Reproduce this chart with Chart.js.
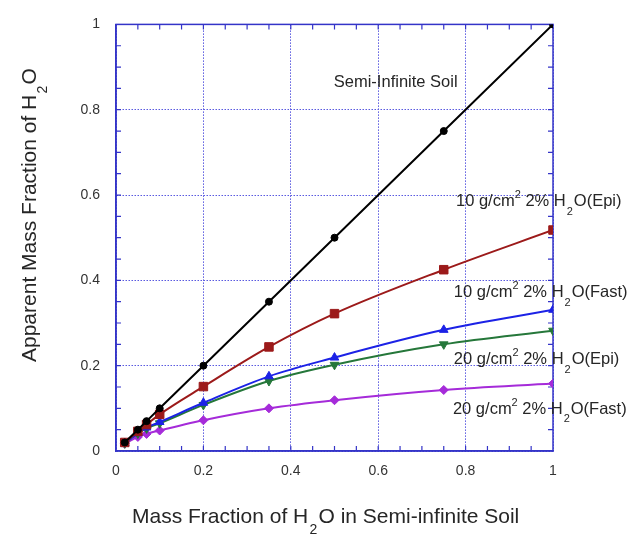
<!DOCTYPE html>
<html>
<head>
<meta charset="utf-8">
<script src="https://cdn.jsdelivr.net/npm/chart.js@4/dist/chart.umd.min.js"></script>
<style>
html,body{margin:0;padding:0;background:#fff;}
#wrap{width:636px;height:537px;position:relative;}
</style>
</head>
<body>
<div id="wrap"><canvas id="c" width="636" height="537"></canvas></div>
<script>
// ---- data ----
const xValues      = [0.02, 0.05, 0.07, 0.1, 0.2, 0.35, 0.5, 0.75, 1.0];
const semiInfinite = [0.02, 0.05, 0.07, 0.1, 0.2, 0.35, 0.5, 0.75, 1.0];
const epi10        = [0.02, 0.046, 0.062, 0.086, 0.151, 0.244, 0.322, 0.425, 0.518];
const fast10       = [0.018, 0.042, 0.055, 0.068, 0.113, 0.175, 0.219, 0.284, 0.331];
const epi20        = [0.018, 0.041, 0.053, 0.065, 0.108, 0.164, 0.202, 0.250, 0.282];
const fast20       = [0.017, 0.033, 0.040, 0.048, 0.072, 0.100, 0.119, 0.143, 0.158];
const tickValues   = [0, 0.2, 0.4, 0.6, 0.8, 1];

const seriesNames  = ['Semi-Infinite Soil', '10 g/cm2 2% H2O(Epi)', '10 g/cm2 2% H2O(Fast)', '20 g/cm2 2% H2O(Epi)', '20 g/cm2 2% H2O(Fast)'];

function pts(ys){ return xValues.map((x,i)=>({x:x, y:ys[i]})); }

const FONT = '"Liberation Sans", Arial, Helvetica, sans-serif';
const AXIS = '#3434c8';

function ds(label, ys, color, style, radius, rotation, tension){
  return {
    label: label, data: pts(ys), showLine: true,
    borderColor: color, backgroundColor: color, borderWidth: 2,
    pointStyle: style, pointRadius: radius, pointRotation: rotation,
    pointBorderWidth: 1, pointBorderColor: color,
    tension: tension, cubicInterpolationMode: tension ? 'monotone' : 'default'
  };
}

// rich text segments: {t, sub, sup}
function richWidth(ctx, segs, size){
  let w = 0;
  for (const s of segs){
    ctx.font = ((s.sub||s.sup) ? Math.round(size*0.68) : size) + 'px ' + FONT;
    w += ctx.measureText(s.t).width + (s.sub ? size*0.12 : 0);
  }
  return w;
}
function drawRich(ctx, segs, x, y, size){
  let cx = x;
  for (const s of segs){
    const sz = (s.sub||s.sup) ? Math.round(size*0.68) : size;
    ctx.font = sz + 'px ' + FONT;
    let dy = 0;
    if (s.sub) { dy = size*0.62; cx += size*0.06; }
    if (s.sup) dy = -size*0.4;
    ctx.fillText(s.t, cx, y + dy);
    cx += ctx.measureText(s.t).width + (s.sub ? size*0.06 : 0);
  }
}

const labelPos = [
  {x:0.64, y:0.865, align:'center', segs:[{t:'Semi-Infinite Soil'}]},
  {x:0.778, y:0.584, align:'left', segs:[{t:'10 g/cm'},{t:'2',sup:true},{t:' 2% H'},{t:'2',sub:true},{t:'O(Epi)'}]},
  {x:0.773, y:0.372, align:'left', segs:[{t:'10 g/cm'},{t:'2',sup:true},{t:' 2% H'},{t:'2',sub:true},{t:'O(Fast)'}]},
  {x:0.773, y:0.215, align:'left', segs:[{t:'20 g/cm'},{t:'2',sup:true},{t:' 2% H'},{t:'2',sub:true},{t:'O(Epi)'}]},
  {x:0.771, y:0.098, align:'left', segs:[{t:'20 g/cm'},{t:'2',sup:true},{t:' 2% H'},{t:'2',sub:true},{t:'O(Fast)'}]}
];

const decor = {
  id: 'decor',
  beforeDatasetsDraw(chart){
    const ctx = chart.ctx, a = chart.chartArea;
    const xs = chart.scales.x, ys = chart.scales.y;
    ctx.save();
    ctx.strokeStyle = AXIS; ctx.lineWidth = 1.5;
    ctx.strokeRect(a.left, a.top, a.right - a.left, a.bottom - a.top);
    ctx.lineWidth = 1.2;
    for (let k = 1; k < 20; k++){
      const v = k*0.05;
      const px = xs.getPixelForValue(v), py = ys.getPixelForValue(v);
      ctx.beginPath();
      ctx.moveTo(px, a.bottom); ctx.lineTo(px, a.bottom - 5);
      ctx.moveTo(px, a.top); ctx.lineTo(px, a.top + 5);
      ctx.moveTo(a.left, py); ctx.lineTo(a.left + 5, py);
      ctx.moveTo(a.right, py); ctx.lineTo(a.right - 5, py);
      ctx.stroke();
    }
    ctx.restore();
  },
  afterDraw(chart){
    const ctx = chart.ctx;
    const xs = chart.scales.x, ys = chart.scales.y;
    ctx.save();
    ctx.fillStyle = '#262626';
    ctx.textBaseline = 'middle';
    ctx.textAlign = 'left';
    const size = 16.5;
    for (const L of labelPos){
      const w = richWidth(ctx, L.segs, size);
      let px = xs.getPixelForValue(L.x);
      if (L.align === 'center') px -= w/2;
      drawRich(ctx, L.segs, px, ys.getPixelForValue(L.y), size);
    }
    // x axis title
    const tsize = 21;
    const xt = [{t:'Mass Fraction of H'},{t:'2',sub:true},{t:'O in Semi-infinite Soil'}];
    const xw = richWidth(ctx, xt, tsize);
    drawRich(ctx, xt, 132, 517, tsize);
    // y axis title
    const yt = [{t:'Apparent Mass Fraction of H'},{t:'2',sub:true},{t:'O'}];
    const yw = richWidth(ctx, yt, tsize);
    ctx.translate(30, 362);
    ctx.rotate(-Math.PI/2);
    drawRich(ctx, yt, 0, 0, tsize);
    ctx.restore();
  }
};

new Chart(document.getElementById('c'), {
  type: 'scatter',
  data: {
    datasets: [
      ds(seriesNames[0], semiInfinite, '#000000', 'circle', 3.5, 0, 0),
      ds(seriesNames[1], epi10, '#9c1a1a', 'rect', 6, 0, 0.4),
      ds(seriesNames[2], fast10, '#1c22e6', 'triangle', 5, 0, 0.4),
      ds(seriesNames[3], epi20, '#25773a', 'triangle', 5, 180, 0.4),
      ds(seriesNames[4], fast20, '#a52bd9', 'rectRot', 4.5, 0, 0.4)
    ]
  },
  options: {
    responsive: false,
    animation: false,
    layout: { padding: { left: 0, top: 13, right: 83, bottom: 0 } },
    plugins: { legend: { display: false }, tooltip: { enabled: false } },
    scales: {
      x: {
        type: 'linear', min: 0, max: 1,
        afterFit(s){ s.height = 86; },
        afterBuildTicks(s){ s.ticks = tickValues.map(v=>({value:v})); },
        grid: { color: '#5a5ae0', lineWidth: 1, drawTicks: false },
        border: { display: true, color: AXIS, width: 1.5, dash: [1.5, 1.5] },
        ticks: { padding: 12, color: '#333', font: { family: FONT, size: 14 }, callback: v => String(Number(v)) }
      },
      y: {
        type: 'linear', min: 0, max: 1,
        afterFit(s){ s.width = 116; },
        afterBuildTicks(s){ s.ticks = tickValues.map(v=>({value:v})); },
        grid: { color: '#5a5ae0', lineWidth: 1, drawTicks: false },
        border: { display: true, color: AXIS, width: 1.5, dash: [1.5, 1.5] },
        ticks: { padding: 16, color: '#333', font: { family: FONT, size: 14 }, callback: v => String(Number(v)) }
      }
    }
  },
  plugins: [decor]
});
</script>
</body>
</html>
